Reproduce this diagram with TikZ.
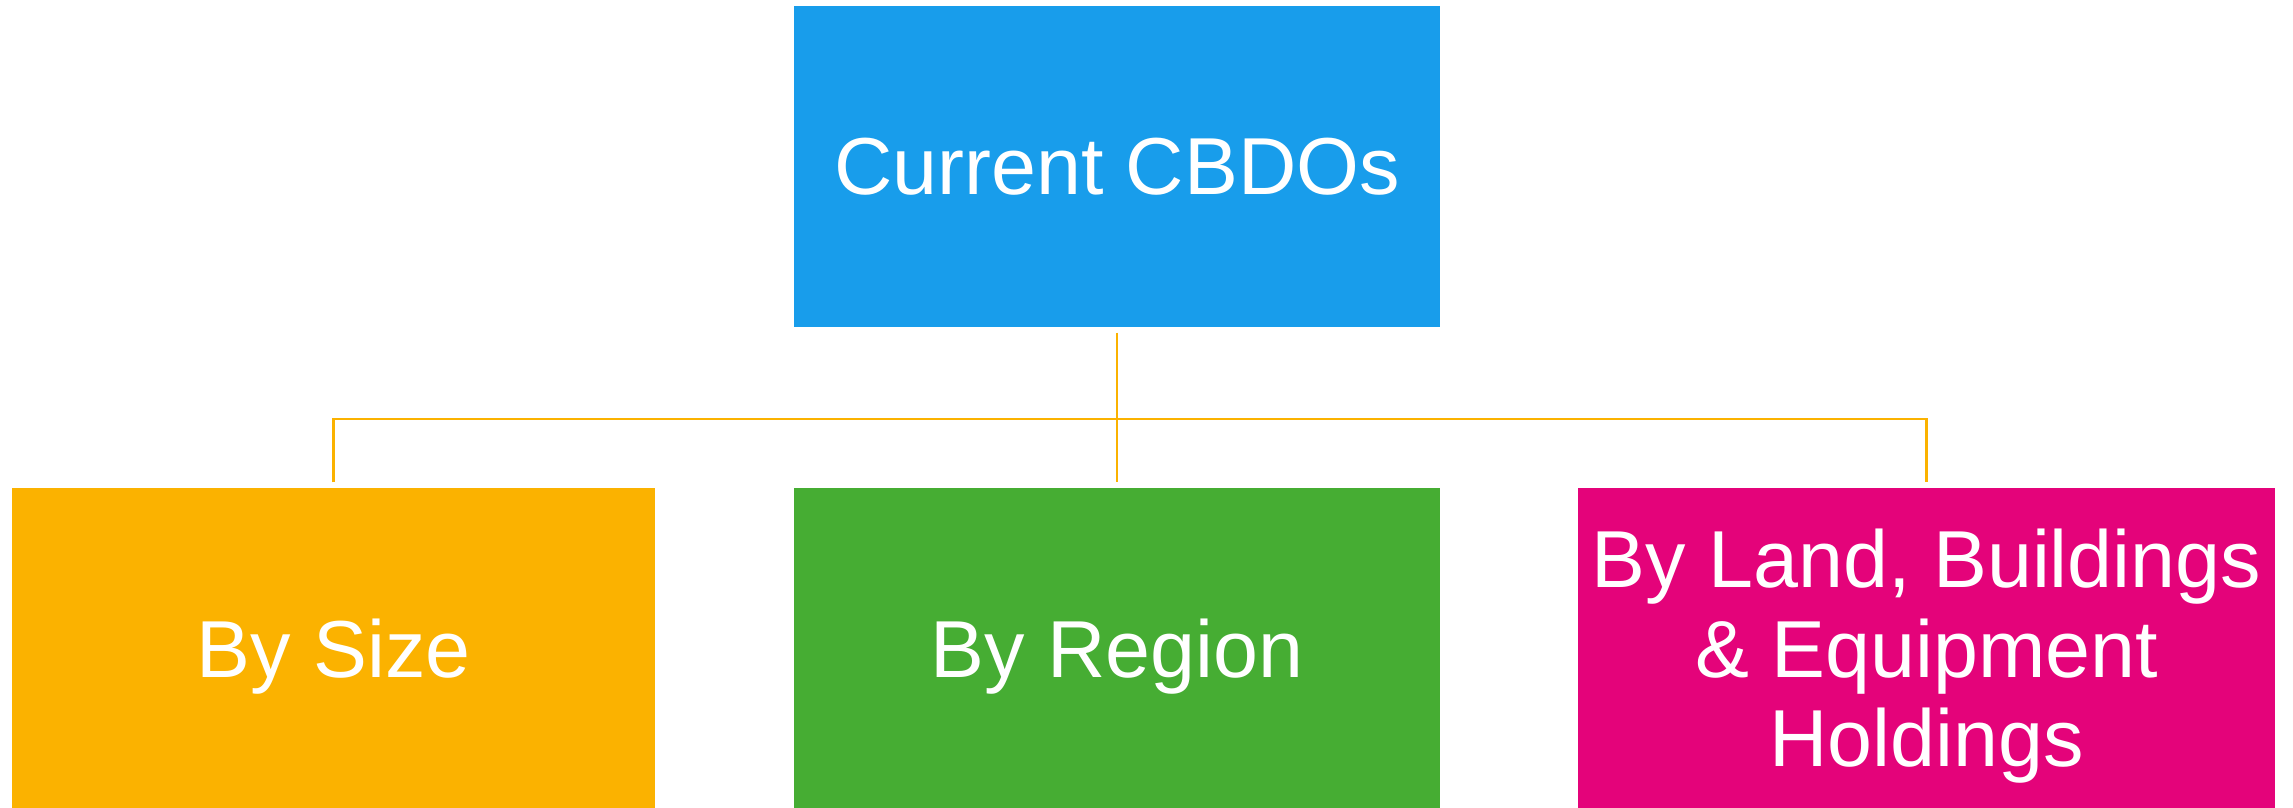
\documentclass[tikz,border=0pt]{standalone}
\usepackage{fontspec}
\setmainfont{Liberation Sans}
\usepackage{xcolor}
\usetikzlibrary{calc,positioning}
\definecolor{cbdoblue}{RGB}{24,157,235}
\definecolor{sizeorange}{RGB}{251,178,0}
\definecolor{regiongreen}{RGB}{70,173,51}
\definecolor{landpink}{RGB}{228,3,122}

\begin{document}
\begin{tikzpicture}[x=0.02cm,y=-0.02cm,
  box/.style={inner sep=0pt,text=white,align=center,text depth=0pt,
    minimum height=6.4cm,font=\fontsize{46}{51}\selectfont},
  link/.style={draw=sizeorange,line width=1.5pt}]
\useasboundingbox (0,0) rectangle (2293,808);
% root and the three groupings
\node[box,fill=cbdoblue,minimum width=12.92cm,minimum height=6.42cm] (cbdo) at (1117,166.5) {Current CBDOs};
\node[box,fill=sizeorange,minimum width=12.86cm] (size) at (333.5,648) {By Size};
\node[box,fill=regiongreen,minimum width=12.92cm] (region) at (1117,648) {By Region};
\node[box,fill=landpink,minimum width=13.94cm] (land) at (1926.5,648) {By Land, Buildings\\ \& Equipment\\ Holdings};
% connectors
\coordinate (bus) at (1117,419);
\draw[link] ([yshift=-3]cbdo.south) -- ([yshift=3]region.north);
\draw[link] ([yshift=3]size.north) |- (bus) -| ([yshift=3]land.north);
\end{tikzpicture}
\end{document}
